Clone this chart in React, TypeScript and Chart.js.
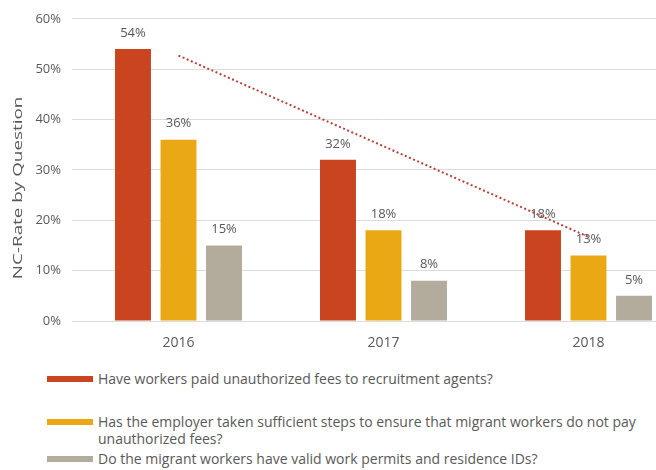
import React, { useEffect, useRef } from 'react';
import { Chart, registerables } from 'chart.js';

Chart.register(...registerables);

// ---- data ----
const categories = ['2016', '2017', '2018'];
const seriesLabels = [
  'Have workers paid unauthorized fees to recruitment agents?',
  'Has the employer taken sufficient steps to ensure that migrant workers do not pay unauthorized fees?',
  'Do the migrant workers have valid work permits and residence IDs?',
];
const feesPaid = [54, 32, 18];
const stepsTaken = [36, 18, 13];
const validPermits = [15, 8, 5];
const feesPaidTrend = [52.7, 34.7, 16.7];
const yMin = 0;
const yMax = 60;
const yStep = 10;
const yTitle = 'NC-Rate by Question';

// ---- styles ----
const barColors = ['#C9441F', '#EAA814', '#B3AB9B'];
const trendColor = '#B8403A';
const textColor = '#595959';
const gridColor = '#DCDCDC';
const FONT = '"Open Sans", sans-serif';

const valueLabels = {
  id: 'valueLabels',
  afterDatasetsDraw(chart: any) {
    const ctx = chart.ctx;
    ctx.save();
    ctx.fillStyle = textColor;
    ctx.font = `13px ${FONT}`;
    ctx.textAlign = 'center';
    ctx.textBaseline = 'middle';
    chart.data.datasets.forEach((ds: any, i: number) => {
      if (ds.type === 'line') return;
      const meta = chart.getDatasetMeta(i);
      meta.data.forEach((el: any, j: number) => {
        ctx.fillText(`${ds.data[j]}%`, el.x, el.y - 16);
      });
    });
    ctx.restore();
  },
};

const yAxisTitle = {
  id: 'yAxisTitle',
  afterDraw(chart: any) {
    const { ctx, chartArea } = chart;
    ctx.save();
    ctx.fillStyle = textColor;
    ctx.font = `13px ${FONT}`;
    ctx.textAlign = 'center';
    ctx.textBaseline = 'middle';
    ctx.translate(18, (chartArea.top + chartArea.bottom) / 2 + 18);
    ctx.rotate(-Math.PI / 2);
    ctx.scale(1.45, 1);
    ctx.fillText(yTitle, 0, 0);
    ctx.restore();
  },
};

function BarChart() {
  const ref = useRef<HTMLCanvasElement>(null);
  useEffect(() => {
    if (!ref.current) return;
    const chart = new Chart(ref.current, {
      type: 'bar',
      data: {
        labels: categories,
        datasets: [
          {
            type: 'line',
            label: 'Trend',
            data: feesPaidTrend,
            borderColor: trendColor,
            borderWidth: 2,
            borderDash: [2, 2.5],
            pointRadius: 0,
            fill: false,
            order: 0,
          } as any,
          { label: seriesLabels[0], data: feesPaid, backgroundColor: barColors[0], order: 1 },
          { label: seriesLabels[1], data: stepsTaken, backgroundColor: barColors[1], order: 1 },
          { label: seriesLabels[2], data: validPermits, backgroundColor: barColors[2], order: 1 },
        ],
      },
      options: {
        responsive: false,
        animation: false,
        layout: { padding: { top: 17, right: 0, bottom: 0, left: 0 } },
        datasets: { bar: { categoryPercentage: 0.666, barPercentage: 0.79 } },
        plugins: { legend: { display: false }, tooltip: { enabled: false } },
        scales: {
          x: {
            grid: { display: false },
            border: { display: false },
            ticks: { color: textColor, font: { family: FONT, size: 14 }, padding: 6 },
            afterFit: (s: any) => { s.height = 39; },
          },
          y: {
            min: yMin,
            max: yMax,
            border: { display: false },
            grid: { color: gridColor, tickLength: 4, tickColor: gridColor },
            ticks: {
              stepSize: yStep,
              color: textColor,
              font: { family: FONT, size: 13 },
              padding: 11,
              callback: (v: any) => `${v}%`,
            },
            afterFit: (s: any) => { s.width = 76; },
          },
        },
      },
      plugins: [valueLabels, yAxisTitle],
    });
    return () => chart.destroy();
  }, []);
  return (
    <canvas
      ref={ref}
      width={691}
      height={360}
      style={{ position: 'absolute', left: 0, top: 0, width: 691, height: 360 }}
    />
  );
}

const legendTops = [370, 413, 450];

export default function App() {
  return (
    <div
      style={{
        position: 'absolute',
        left: 0,
        top: 0,
        width: 656,
        height: 470,
        overflow: 'hidden',
        background: '#fff',
        fontFamily: FONT,
      }}
    >
      <BarChart />
      {seriesLabels.map((label, i) => (
        <div
          key={label}
          style={{ position: 'absolute', left: 47, top: legendTops[i], width: 640, display: 'flex' }}
        >
          <div
            style={{
              width: 46,
              height: 6,
              marginTop: 6,
              background: barColors[i],
              flex: '0 0 46px',
            }}
          />
          <div
            style={{
              marginLeft: 5,
              width: 580,
              fontSize: 14,
              lineHeight: '17px',
              color: textColor,
            }}
          >
            {label}
          </div>
        </div>
      ))}
    </div>
  );
}
